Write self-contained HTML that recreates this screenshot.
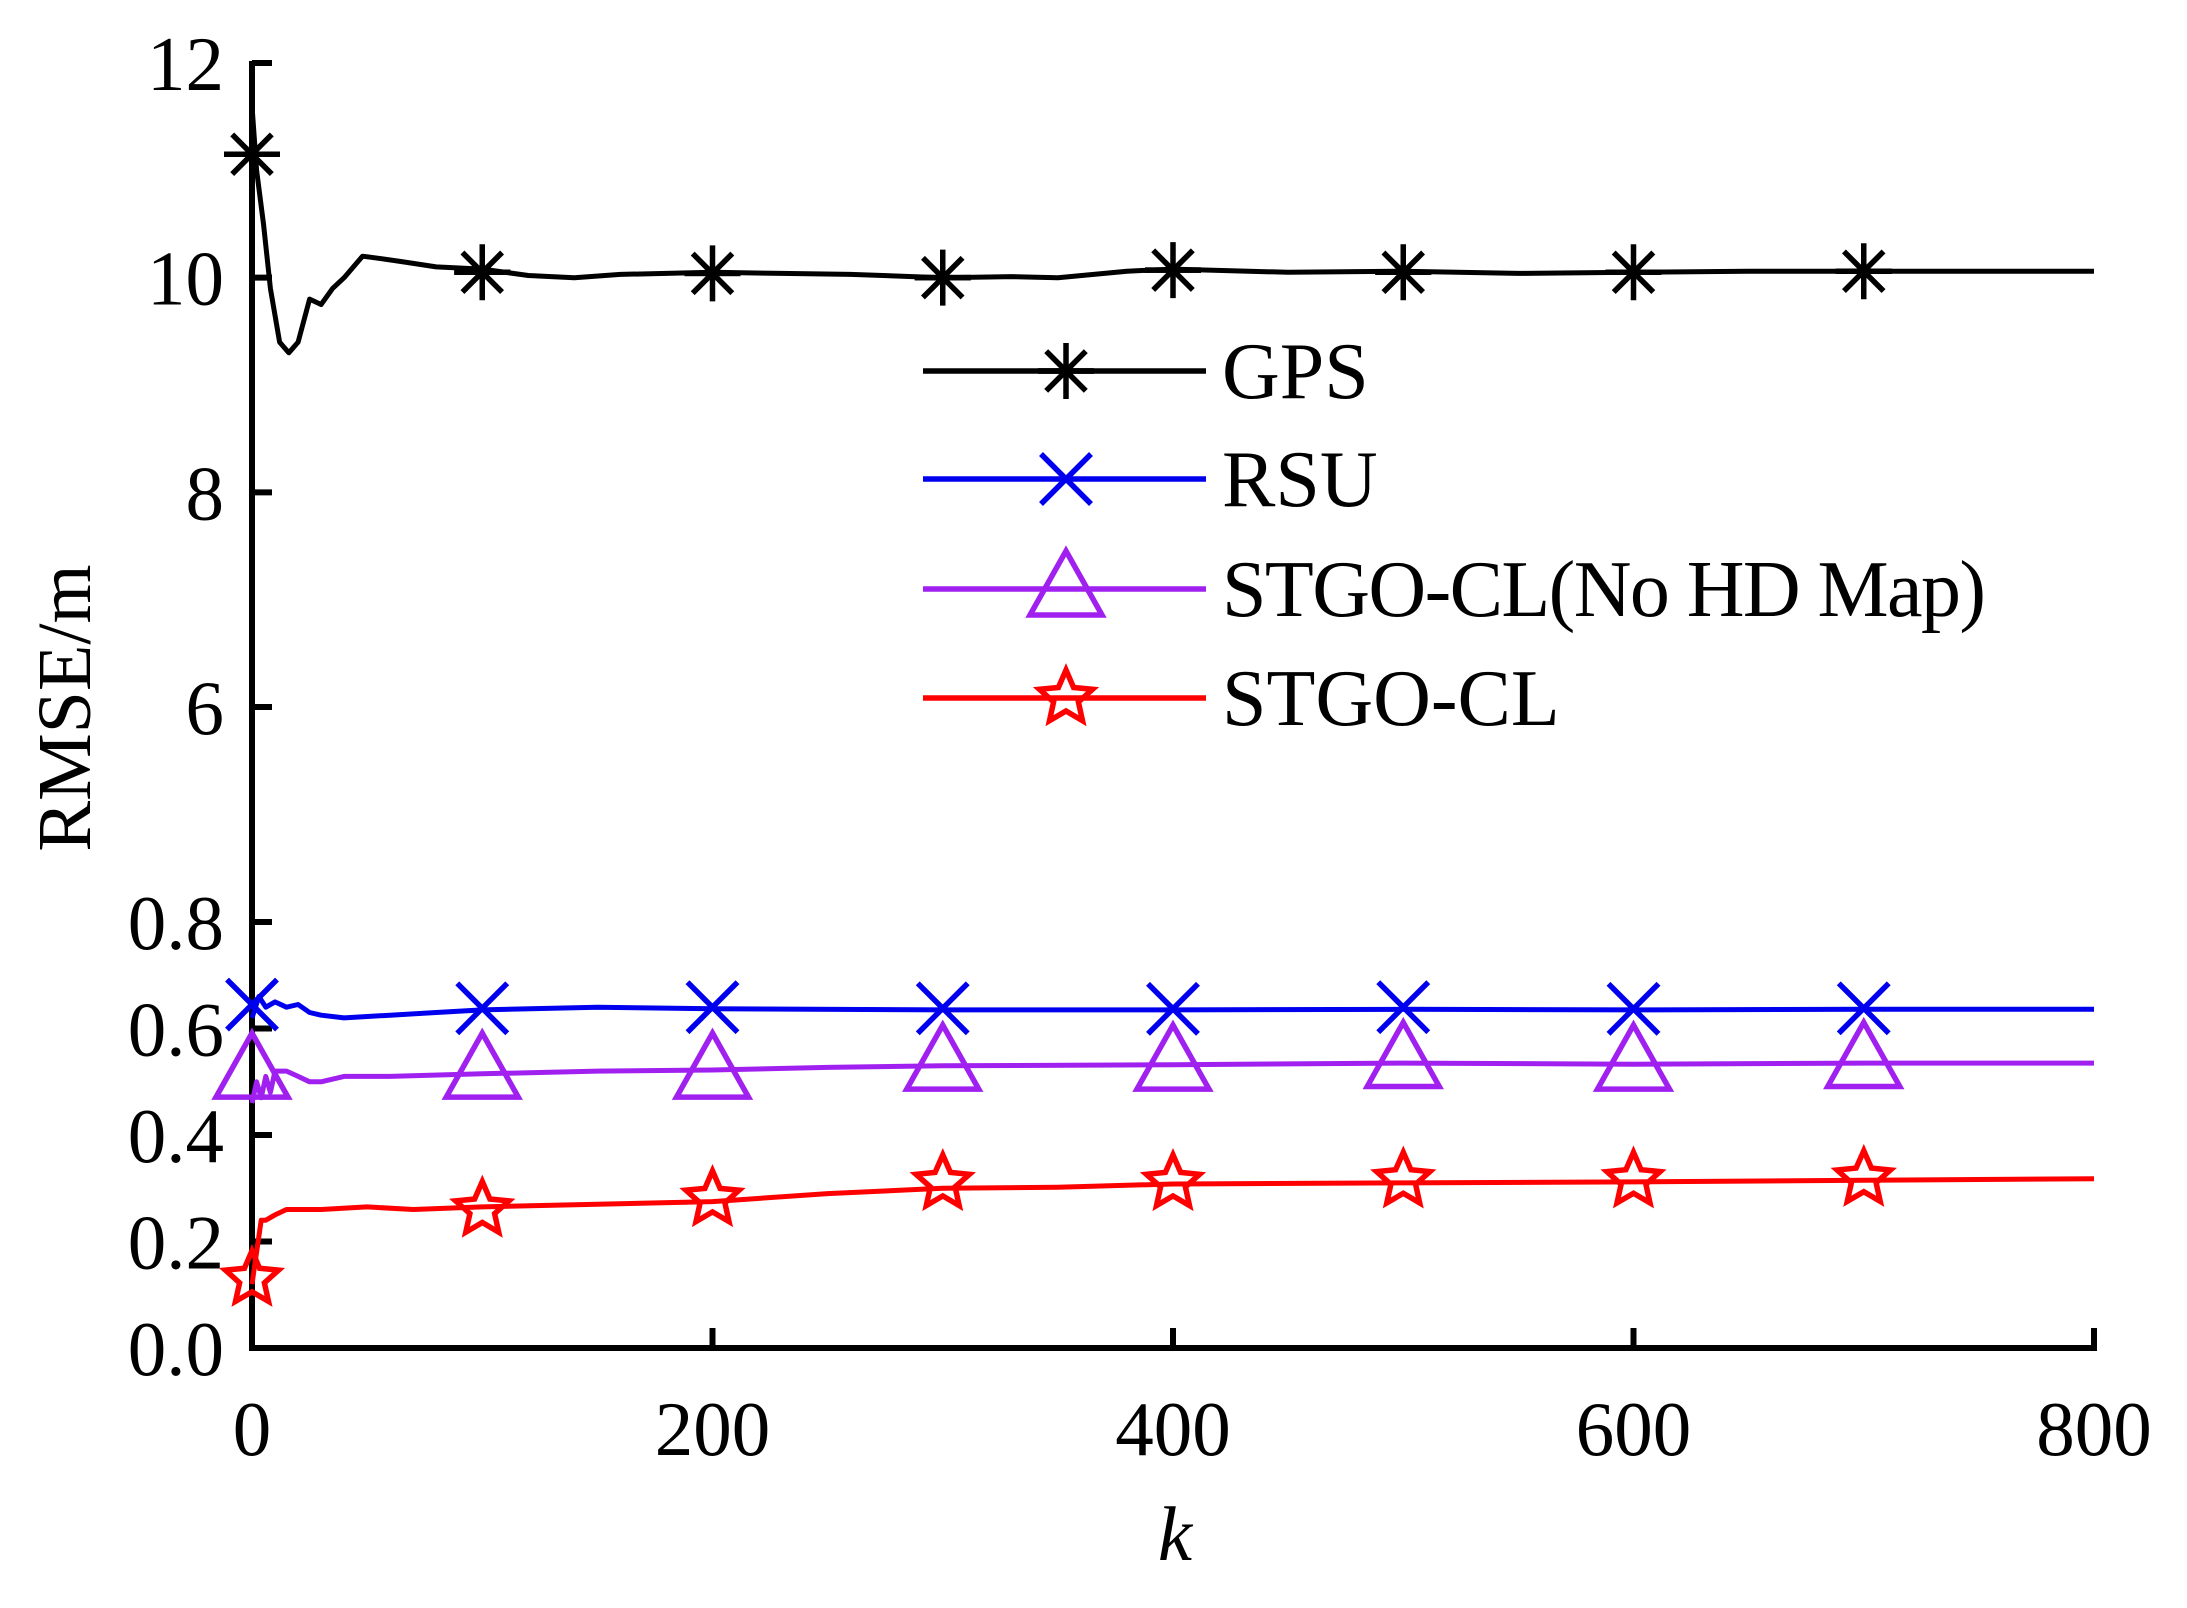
<!DOCTYPE html>
<html><head><meta charset="utf-8">
<style>
html,body{margin:0;padding:0;background:#fff;}
svg{display:block;}
text{font-family:"Liberation Serif",serif;fill:#000;}
</style></head>
<body>
<svg id="chart" width="2187" height="1608" viewBox="0 0 2187 1608" xmlns="http://www.w3.org/2000/svg">
<g id="axes"></g>
<g id="series"></g>
<g id="legend"></g>
</svg>
<script>
const xTicks = [0, 200, 400, 600, 800];
const yTicks = [0.0, 0.2, 0.4, 0.6, 0.8, 6, 8, 10, 12];
const yTickLabels = ["0.0", "0.2", "0.4", "0.6", "0.8", "6", "8", "10", "12"];
const markerK = [0, 100, 200, 300, 400, 500, 600, 700];

const gpsK = [0, 2, 5, 8, 12, 16, 20, 25, 30, 35, 40, 48, 55, 65, 80, 100, 120, 140, 160, 180, 200, 230, 260, 300, 330, 350, 380, 400, 450, 500, 550, 600, 650, 700, 750, 800];
const gpsV = [11.6, 11.0, 10.5, 9.9, 9.4, 9.3, 9.4, 9.8, 9.75, 9.9, 10.0, 10.2, 10.18, 10.15, 10.1, 10.08, 10.02, 10.0, 10.03, 10.04, 10.05, 10.04, 10.03, 10.0, 10.01, 10.0, 10.06, 10.08, 10.05, 10.06, 10.04, 10.05, 10.06, 10.06, 10.06, 10.06];
const gpsM = [11.15, 10.05, 10.04, 10.0, 10.07, 10.05, 10.05, 10.06];

const rsuK = [0, 3, 6, 10, 15, 20, 25, 30, 40, 60, 80, 100, 150, 200, 300, 400, 500, 600, 700, 800];
const rsuV = [0.62, 0.66, 0.64, 0.65, 0.64, 0.645, 0.63, 0.625, 0.62, 0.625, 0.63, 0.635, 0.64, 0.637, 0.635, 0.635, 0.636, 0.635, 0.636, 0.636];
const rsuM = [0.645, 0.638, 0.64, 0.638, 0.637, 0.64, 0.637, 0.638];

const noHdK = [0, 2, 4, 6, 8, 10, 15, 20, 25, 30, 40, 60, 100, 150, 200, 250, 300, 400, 500, 600, 700, 800];
const noHdV = [0.46, 0.5, 0.47, 0.51, 0.48, 0.52, 0.52, 0.51, 0.5, 0.5, 0.51, 0.51, 0.515, 0.52, 0.522, 0.527, 0.53, 0.532, 0.535, 0.533, 0.535, 0.535];
const noHdM = [0.52, 0.52, 0.52, 0.535, 0.535, 0.54, 0.535, 0.54];

const stgoK = [0, 2, 4, 6, 10, 15, 20, 30, 50, 70, 100, 150, 200, 250, 300, 350, 400, 500, 600, 700, 800];
const stgoV = [0.12, 0.18, 0.24, 0.24, 0.25, 0.26, 0.26, 0.26, 0.265, 0.26, 0.265, 0.27, 0.275, 0.29, 0.3, 0.302, 0.308, 0.31, 0.312, 0.315, 0.318];
const stgoM = [0.13, 0.26, 0.28, 0.31, 0.31, 0.315, 0.315, 0.318];

const NS = "http://www.w3.org/2000/svg";
const X0 = 252, X1 = 2094;
function xs(k){ return X0 + (k/800)*(X1-X0); }
function ys(v){
  if (v <= 0.8) return 1348 - (v/0.8)*(1348-922);
  return 707 - ((v-6)/6)*(707-63);
}
function mk(tag, attrs, parent){
  const e = document.createElementNS(NS, tag);
  for (const a in attrs) e.setAttribute(a, attrs[a]);
  parent.appendChild(e);
  return e;
}
const axes = document.getElementById('axes');
const ser = document.getElementById('series');
const leg = document.getElementById('legend');

let yAxis = mk('line', {x1:X0, y1:61, x2:X0, y2:1350, stroke:'#000','stroke-width':6}, axes);


let xAxis = mk('line', {x1:X0-3, y1:1348, x2:X1+3, y2:1348, stroke:'#000','stroke-width':6}, axes);



yTicks.forEach((v,i)=>{
  const y = ys(v);
  const t = mk('line', {x1:X0, y1:y, x2:X0+20, y2:y, stroke:'#000','stroke-width':6}, axes);
  
  
  const l = mk('text', {x:224, y:y+27, 'font-size':77, 'text-anchor':'end'}, axes);
  l.textContent = yTickLabels[i];
  
  
});
xTicks.forEach(k=>{
  const x = xs(k);
  const t = mk('line', {x1:x, y1:1348, x2:x, y2:1328, stroke:'#000','stroke-width':6}, axes);
  
  
  const l = mk('text', {x:x, y:1455, 'font-size':77, 'text-anchor':'middle'}, axes);
  l.textContent = String(k);
  
  
});
const xt = mk('text', {x:1175, y:1560, 'font-size':77, 'font-style':'italic', 'text-anchor':'middle'}, axes);
xt.textContent = 'k';


const yt = mk('text', {x:0, y:0, 'font-size':76, 'text-anchor':'middle', transform:'translate(90,708) rotate(-90)'}, axes);
yt.textContent = 'RMSE/m';



function marker(type, cx, cy, color, parent){
  const g = mk('g', {stroke:color, fill:'none', 'stroke-width':5.5, 'stroke-linejoin':'miter'}, parent);
  if (type==='ast'){
    const r = 28;
    for (let a=0;a<180;a+=45){
      const rad = a*Math.PI/180 + Math.PI/2;
      mk('line',{x1:cx-r*Math.cos(rad), y1:cy-r*Math.sin(rad), x2:cx+r*Math.cos(rad), y2:cy+r*Math.sin(rad)}, g);
    }
    mk('line',{x1:cx-r, y1:cy, x2:cx+r, y2:cy}, g);
  } else if (type==='x'){
    const r = 25;
    mk('line',{x1:cx-r,y1:cy-r,x2:cx+r,y2:cy+r}, g);
    mk('line',{x1:cx-r,y1:cy+r,x2:cx+r,y2:cy-r}, g);
  } else if (type==='tri'){
    mk('polygon',{points:`${cx},${cy-38} ${cx+36},${cy+26} ${cx-36},${cy+26}`}, g);
  } else if (type==='star'){
    let pts=[];
    for(let i=0;i<10;i++){
      const r = i%2===0 ? 28 : 13;
      const a = -Math.PI/2 + i*Math.PI/5;
      pts.push((cx+r*Math.cos(a)).toFixed(1)+','+(cy+r*Math.sin(a)).toFixed(1));
    }
    mk('polygon',{points:pts.join(' ')}, g);
  }
  return g;
}

function drawSeries(name, K, V, M, color, type){
  const g = mk('g', {}, ser);
  
  
  const d = K.map((k,i)=>(i?'L':'M')+xs(k).toFixed(1)+','+ys(V[i]).toFixed(1)).join(' ');
  const p = mk('path', {d:d, fill:'none', stroke:color, 'stroke-width':5, 'stroke-linejoin':'round'}, g);
  
  
  markerK.forEach((k,i)=>{
    const m = marker(type, xs(k), ys(M[i]), color, g);
    
    
  });
}
drawSeries('gps', gpsK, gpsV, gpsM, '#000000', 'ast');
drawSeries('rsu', rsuK, rsuV, rsuM, '#0000ee', 'x');
drawSeries('stgo-cl-no-hd-map', noHdK, noHdV, noHdM, '#a020f0', 'tri');
drawSeries('stgo-cl', stgoK, stgoV, stgoM, '#ff0000', 'star');

const legItems = [['GPS','#000000','ast',371],['RSU','#0000ee','x',479],['STGO-CL(No HD Map)','#a020f0','tri',589],['STGO-CL','#ff0000','star',698]];
legItems.forEach(it=>{
  const g = mk('g', {}, leg);
  
  
  mk('line',{x1:923,y1:it[3],x2:1206,y2:it[3],stroke:it[1],'stroke-width':5.5}, g);
  marker(it[2], 1066, it[3], it[1], g);
  const t = mk('text',{x:1222,y:it[3]+27,'font-size':80,'textLength':it[0].length>10?764:null}, g);
  if (it[0].length<=10) t.removeAttribute('textLength');
  t.textContent = it[0];
  
  
});
</script>
</body></html>
